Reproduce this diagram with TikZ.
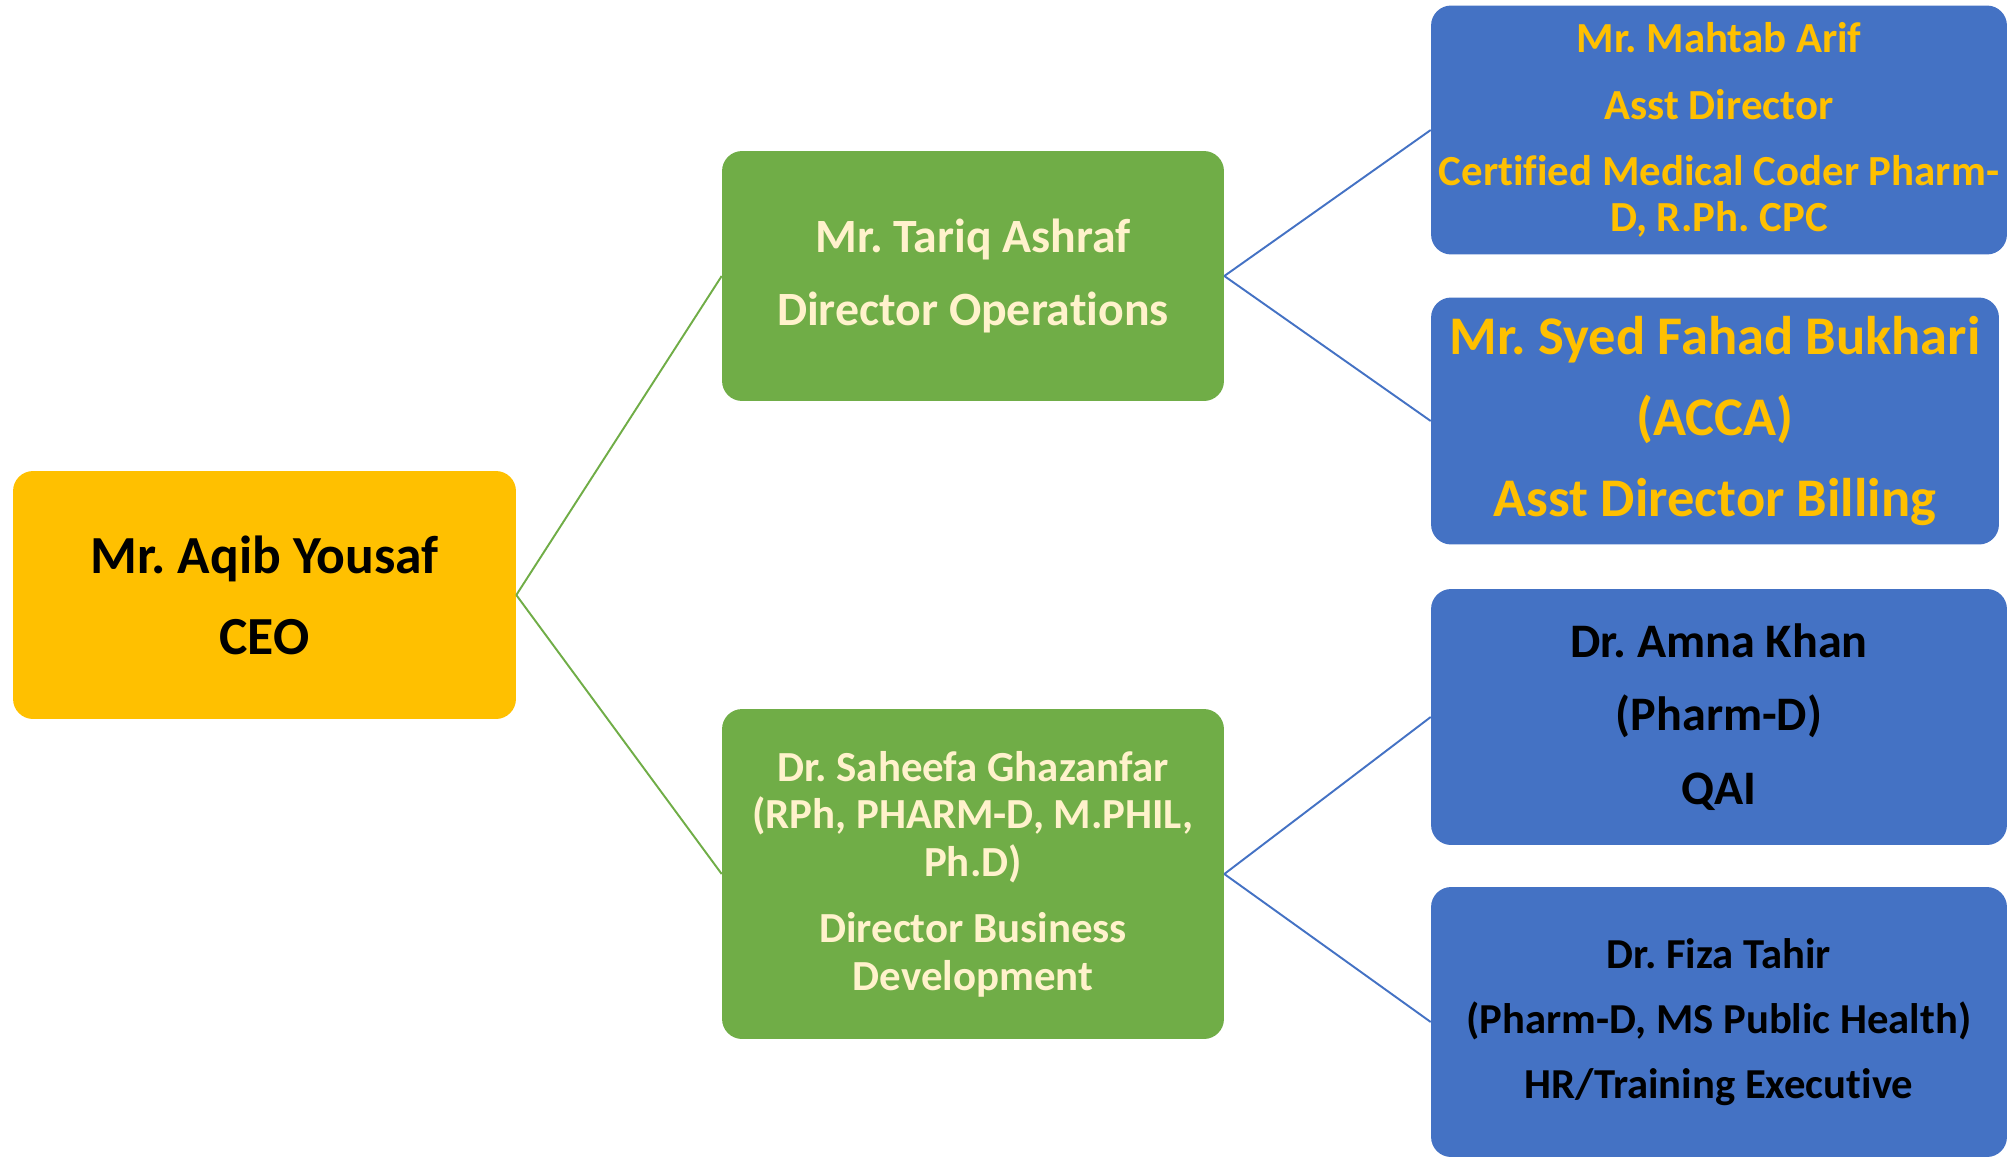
\documentclass[tikz,border=0pt]{standalone}
\usepackage{fontspec}
\setmainfont{Carlito}[Ligatures=CommonOff]
\usepackage{tikz}
\usetikzlibrary{positioning}
\frenchspacing

\definecolor{ceoyellow}{HTML}{FFC000}
\definecolor{leafgreen}{HTML}{70AD47}
\definecolor{officeblue}{HTML}{4472C4}
\definecolor{cream}{HTML}{FFF2CC}

\tikzstyle{orgbox} = [rounded corners=0.4cm, inner sep=0pt, align=center]
\tikzstyle{ceobox} = [orgbox, fill=ceoyellow, text=black]
\tikzstyle{dirbox} = [orgbox, fill=leafgreen, text=cream]
\tikzstyle{staffbox} = [orgbox, fill=officeblue]
\tikzstyle{greenlink} = [line width=1.1pt, leafgreen]
\tikzstyle{bluelink} = [line width=1.1pt, officeblue]

\begin{document}
\begin{tikzpicture}[x=0.02cm, y=-0.02cm]
  \useasboundingbox (0, 0) rectangle (2007, 1156);
  \clip (0, 0) rectangle (2007, 1156);

  \path (264.5, 595) node[ceobox, minimum width=10.06cm, minimum height=4.96cm,
    font={\fontsize{30.5}{37}\selectfont\bfseries}] (ceo)
    {Mr. Aqib Yousaf\\[9pt] CEO};

  \path (973, 276) node[dirbox, minimum width=10.04cm, minimum height=5.0cm,
    font={\fontsize{27.2}{33}\selectfont\bfseries}] (ops)
    {Mr. Tariq Ashraf\\[9pt] Director Operations};
  \path (973, 874) node[dirbox, minimum width=10.04cm, minimum height=6.6cm,
    font={\fontsize{24.4}{27}\selectfont\bfseries}] (bizdev)
    {Dr. Saheefa Ghazanfar\\ (RPh, PHARM-D, M.PHIL,\\ Ph.D)\\[10.9pt]
     Director Business\\ Development};

  \path (1719, 130) node[staffbox, text=ceoyellow, minimum width=11.52cm, minimum height=4.98cm,
    font={\fontsize{24.4}{26.2}\selectfont\bfseries}] (mahtab)
    {Mr. Mahtab Arif\\[11.7pt] Asst Director\\[11.7pt] Certified Medical Coder Pharm-\\ D, R.Ph. CPC};
  \path (1715, 421) node[staffbox, text=ceoyellow, minimum width=11.36cm, minimum height=4.94cm,
    font={\fontsize{31}{37.8}\selectfont\bfseries}] (fahad)
    {Mr. Syed Fahad Bukhari\\[8.2pt] (ACCA)\\[8.2pt] Asst Director Billing};
  \path (1719, 717) node[staffbox, text=black, minimum width=11.52cm, minimum height=5.12cm,
    font={\fontsize{27.4}{33.4}\selectfont\bfseries}] (amna)
    {Dr. Amna Khan\\[8.5pt] (Pharm-D)\\[8.5pt] QAI};
  \path (1719, 1022) node[staffbox, text=black, minimum width=11.52cm, minimum height=5.4cm,
    font={\fontsize{24.3}{29.6}\selectfont\bfseries}] (fiza)
    {Dr. Fiza Tahir\\[7.6pt] (Pharm-D, MS Public Health)\\[7.6pt] HR/Training Executive};

  % connectors
  \draw[greenlink] (ceo.east) -- (ops.west);
  \draw[greenlink] (ceo.east) -- (bizdev.west);
  \draw[bluelink] (ops.east) -- (mahtab.west);
  \draw[bluelink] (ops.east) -- (fahad.west);
  \draw[bluelink] (bizdev.east) -- (amna.west);
  \draw[bluelink] (bizdev.east) -- (fiza.west);
\end{tikzpicture}
\end{document}
